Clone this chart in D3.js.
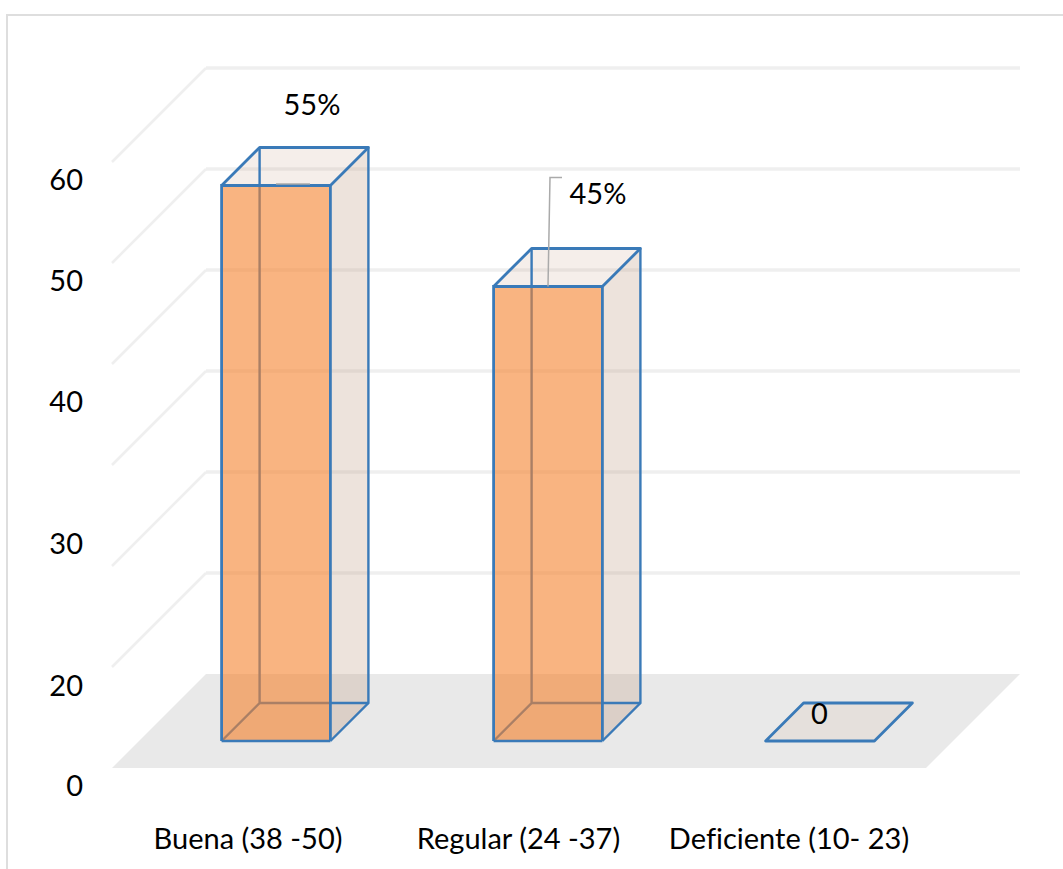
<!DOCTYPE html>
<html>
<head>
<meta charset="utf-8">
<script src="https://cdn.jsdelivr.net/npm/d3@7"></script>
<style>
  html, body { margin: 0; padding: 0; background: #fff; }
  svg { display: block; }
  text { font-family: Lato, "Open Sans", sans-serif; fill: #000; font-variant-ligatures: none; }
</style>
</head>
<body>
<svg id="chart" width="1063" height="869"></svg>
<script>
// Chart data
const categories = ["Buena (38 -50)", "Regular (24 -37)", "Deficiente (10- 23)"];
const values = [55, 45, 0];
const valueLabels = ["55%", "45%", "0"];
const gridValues = [0, 10, 20, 30, 40, 50, 60];
const axisLabels = [0, 20, 30, 40, 50, 60];

const svg = d3.select("#chart");

// Oblique projection: the floor's front edge sits on y = floorY, and a point
// at depth d is shifted d px to the right and d px upward.
const floorY = 768;
const floorDepth = 94;
const barNear = 27;
const barFar = 65;

const xBand = d3.scaleBand().domain(categories).range([113, 929]);
const height = d3.scaleLinear().domain([0, 60]).range([0, 606]);
const floorLeft = 112, floorRight = 926;
const barWidth = xBand.bandwidth() * 0.4;

const pt = (x, depth, v) => [x + depth, floorY - depth - height(v)];
const line = d3.line();
const poly = pts => line(pts) + "Z";

// Axis labels are spaced unevenly along the left side
const axisLabelY = d3.scaleLinear()
  .domain([0, 20, 30, 40, 50, 60])
  .range([786, 686, 544, 402, 281, 180]);

// Category labels run slightly tighter than the bars
const categoryX = d3.scalePoint().domain(categories).range([248, 789]);

// Outer frame, open at the right and at the bottom
svg.append("path")
  .attr("d", line([[7, 869], [7, 15], [1063, 15]]))
  .attr("fill", "none").attr("stroke", "#dedede").attr("stroke-width", 2);

// Floor
svg.append("path")
  .attr("d", poly([pt(floorLeft, 0, 0), pt(floorLeft, floorDepth, 0), pt(floorRight, floorDepth, 0), pt(floorRight, 0, 0)]))
  .attr("fill", "#e9e9e9");

// Gridlines on the back and side walls
const grid = svg.append("g").attr("fill", "none").attr("stroke", "#efefef");
grid.selectAll(".back").data(gridValues.slice(1)).join("path")
  .attr("class", "back").attr("stroke-width", 3.5)
  .attr("d", v => line([pt(floorLeft, floorDepth, v), pt(floorRight, floorDepth, v)]));
grid.selectAll(".wall").data(gridValues.slice(1)).join("path")
  .attr("class", "wall").attr("stroke-width", 2.5)
  .attr("d", v => line([pt(floorLeft, 0, v), pt(floorLeft, floorDepth, v)]));

// Translucent boxes
const blue = "#3a7ab8";
const barData = categories.map((c, i) => ({ c, v: values[i], label: valueLabels[i] }));
svg.append("g").selectAll("g")
  .data(barData)
  .join("g")
  .each(function (d) {
    const g = d3.select(this);
    const x0 = xBand(d.c) + (xBand.bandwidth() - barWidth) / 2;
    const x1 = x0 + barWidth;
    const nb = pt(x0, barNear, 0), nbr = pt(x1, barNear, 0);
    const fb = pt(x0, barFar, 0), fbr = pt(x1, barFar, 0);
    const nt = pt(x0, barNear, d.v), ntr = pt(x1, barNear, d.v);
    const ft = pt(x0, barFar, d.v), ftr = pt(x1, barFar, d.v);

    if (d.v === 0) {
      g.append("path").attr("d", poly([nb, fb, fbr, nbr]))
        .attr("fill", "#e5e0dc").attr("stroke", blue).attr("stroke-width", 2.8)
        .attr("stroke-linejoin", "round");
      return;
    }

    // Faces seen through the front
    g.append("path").attr("d", poly([nbr, fbr, ftr, ntr])).attr("fill", "rgba(190,150,125,0.27)");
    g.append("path").attr("d", poly([nt, ft, ftr, ntr])).attr("fill", "rgba(190,150,125,0.16)");
    g.append("path").attr("d", poly([nb, fb, fbr, nbr])).attr("fill", "rgba(190,150,125,0.06)");

    // Hidden edges behind the front face
    g.append("path").attr("d", line([nb, fb, ft])).attr("fill", "none")
      .attr("stroke", blue).attr("stroke-width", 2.4);
    g.append("path").attr("d", line([fb, fbr])).attr("fill", "none")
      .attr("stroke", blue).attr("stroke-width", 2.4);

    // Front face
    g.append("path").attr("d", poly([nb, nt, ntr, nbr])).attr("fill", "rgba(245,130,45,0.6)");

    // Visible edges
    g.append("path").attr("d", line([nb, nbr])).attr("fill", "none")
      .attr("stroke", blue).attr("stroke-width", 2.4);
    g.append("path").attr("d", line([nb, nt, ntr, nbr])).attr("fill", "none")
      .attr("stroke", blue).attr("stroke-width", 2.8);
    g.append("path").attr("d", line([nt, ft, ftr, ntr])).attr("fill", "none")
      .attr("stroke", blue).attr("stroke-width", 2.8).attr("stroke-linejoin", "round");
    g.append("path").attr("d", line([ftr, fbr, nbr])).attr("fill", "none")
      .attr("stroke", blue).attr("stroke-width", 2.4);
  });

// Leader lines for the value labels
const leaderColor = "#aaaaaa";
const topCentre = i => {
  const x = xBand(categories[i]) + xBand.bandwidth() / 2;
  return pt(x, barNear, values[i]);
};
const [t0x, t0y] = topCentre(0);
svg.append("path")
  .attr("d", line([[t0x, t0y - 1.5], [t0x + 34, t0y - 1.5]]))
  .attr("stroke", leaderColor).attr("stroke-width", 1.5).attr("fill", "none");
const [t1x, t1y] = topCentre(1);
svg.append("path")
  .attr("d", line([[t1x, t1y], [t1x + 2, t1y - 109], [t1x + 14, t1y - 109]]))
  .attr("stroke", leaderColor).attr("stroke-width", 1.5).attr("fill", "none");

// Value labels, placed relative to the top of each box
const labelShift = [[36, -71], [50, -83], [-0.5, -17]];
svg.append("g").selectAll("text")
  .data(valueLabels).join("text")
  .attr("text-anchor", "middle")
  .attr("font-size", 29)
  .attr("x", (d, i) => topCentre(i)[0] + labelShift[i][0])
  .attr("y", (d, i) => topCentre(i)[1] + labelShift[i][1])
  .text(d => d);

// Value axis labels
svg.append("g").selectAll("text")
  .data(axisLabels).join("text")
  .attr("text-anchor", "end")
  .attr("dominant-baseline", "middle")
  .attr("font-size", 29)
  .attr("x", 83)
  .attr("y", d => axisLabelY(d) + 3)
  .text(d => d);

// Category labels
svg.append("g").selectAll("text")
  .data(categories).join("text")
  .attr("text-anchor", "middle")
  .attr("font-size", 29)
  .attr("x", d => categoryX(d))
  .attr("y", 849)
  .text(d => d);
</script>
</body>
</html>
